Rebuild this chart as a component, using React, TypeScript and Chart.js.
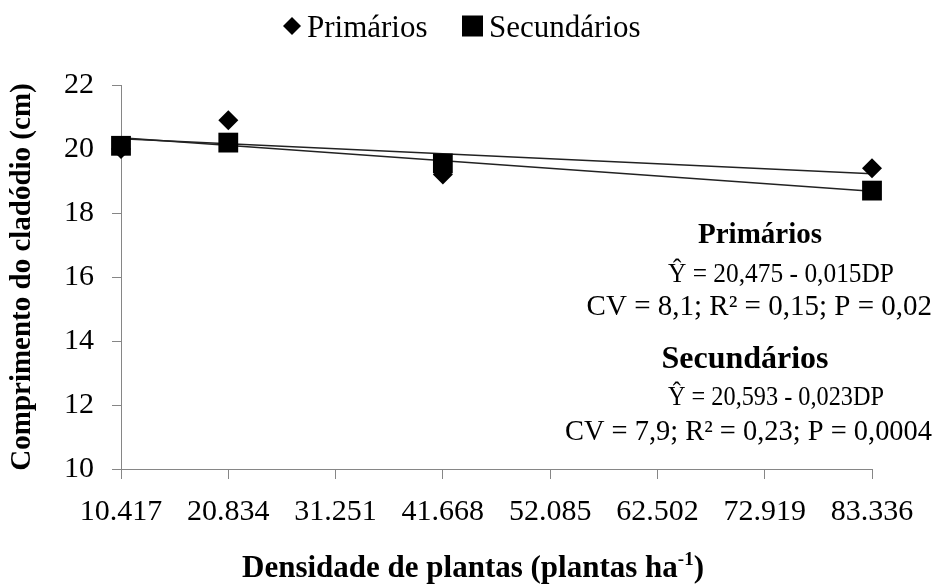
import React, { useEffect, useRef } from 'react';
import { Chart, registerables } from 'chart.js';

Chart.register(...registerables);

// ---- data ----
const xTickValues = [10.417, 20.834, 31.251, 41.668, 52.085, 62.502, 72.919, 83.336];
const densities = [10.417, 20.834, 41.668, 83.336];
const primarios = [20.0, 20.9, 19.2, 19.4];
const secundarios = [20.1, 20.2, 19.55, 18.7];
const primCoef = [20.475, -0.015];
const secCoef = [20.593, -0.023];
const yMin = 10;
const yMax = 22;
const yStep = 2;
const seriesNames = ['Primários', 'Secundários'];
const primAnnot = ['Primários', 'Ŷ = 20,475 - 0,015DP', 'CV = 8,1; R² = 0,15; P = 0,02'];
const secAnnot = ['Secundários', 'Ŷ = 20,593 - 0,023DP', 'CV = 7,9; R² = 0,23; P = 0,0004'];
const yTitle = 'Comprimento do cladódio (cm)';
const xTitleMain = 'Densidade de plantas (plantas ha';
const xTitleSup = '-1';
const xTitleEnd = ')';

const FONT = '"Liberation Serif", "Times New Roman", serif';
const AXIS_COLOR = '#868686';

function trend(coef: number[]) {
  const x0 = xTickValues[0];
  const x1 = xTickValues[xTickValues.length - 1];
  return [
    { x: x0, y: coef[0] + coef[1] * x0 },
    { x: x1, y: coef[0] + coef[1] * x1 },
  ];
}

const textPlugin = {
  id: 'textPlugin',
  afterDraw(chart: any) {
    const ctx = chart.ctx as CanvasRenderingContext2D;
    const area = chart.chartArea;
    ctx.save();
    ctx.fillStyle = '#000';

    // Legend
    const ly = 26;
    ctx.beginPath();
    ctx.moveTo(292, ly - 9);
    ctx.lineTo(301, ly);
    ctx.lineTo(292, ly + 9);
    ctx.lineTo(283, ly);
    ctx.closePath();
    ctx.fill();
    ctx.font = `31px ${FONT}`;
    ctx.textAlign = 'left';
    ctx.textBaseline = 'alphabetic';
    ctx.fillText(seriesNames[0], 307, 37);
    ctx.fillRect(462, ly - 10.5, 21, 21);
    ctx.fillText(seriesNames[1], 489, 37);

    // Annotations
    ctx.textAlign = 'center';
    ctx.font = `bold 29px ${FONT}`;
    ctx.fillText(primAnnot[0], 760, 243);
    ctx.textAlign = 'left';
    ctx.font = `27px ${FONT}`;
    ctx.fillText(primAnnot[1], 668, 282, 226);
    ctx.textAlign = 'right';
    ctx.font = `29px ${FONT}`;
    ctx.fillText(primAnnot[2], 932, 315, 348);

    ctx.textAlign = 'center';
    ctx.font = `bold 32px ${FONT}`;
    ctx.fillText(secAnnot[0], 745, 368);
    ctx.textAlign = 'left';
    ctx.font = `27px ${FONT}`;
    ctx.fillText(secAnnot[1], 668, 405, 216);
    ctx.textAlign = 'right';
    ctx.font = `29px ${FONT}`;
    ctx.fillText(secAnnot[2], 932, 440, 367);

    // Y title
    ctx.save();
    ctx.translate(23, (area.top + area.bottom) / 2);
    ctx.rotate(-Math.PI / 2);
    ctx.font = `bold 29px ${FONT}`;
    ctx.textAlign = 'center';
    ctx.textBaseline = 'middle';
    ctx.fillText(yTitle, 0, 0);
    ctx.restore();

    // X title with superscript
    const mainSize = 31;
    const supSize = 19;
    ctx.font = `bold ${mainSize}px ${FONT}`;
    const wMain = ctx.measureText(xTitleMain).width;
    ctx.font = `bold ${supSize}px ${FONT}`;
    const wSup = ctx.measureText(xTitleSup).width;
    ctx.font = `bold ${mainSize}px ${FONT}`;
    const wEnd = ctx.measureText(xTitleEnd).width;
    const total = wMain + wSup + wEnd;
    let x = 473 - total / 2;
    const by = 577;
    ctx.textAlign = 'left';
    ctx.textBaseline = 'alphabetic';
    ctx.fillText(xTitleMain, x, by);
    x += wMain;
    ctx.font = `bold ${supSize}px ${FONT}`;
    ctx.fillText(xTitleSup, x, by - 12);
    x += wSup;
    ctx.font = `bold ${mainSize}px ${FONT}`;
    ctx.fillText(xTitleEnd, x, by);

    ctx.restore();
  },
};

export default function App() {
  const ref = useRef<HTMLCanvasElement | null>(null);

  useEffect(() => {
    document.body.style.margin = '0';
    const canvas = ref.current;
    if (!canvas) return;
    const chart = new Chart(canvas, {
      type: 'scatter',
      data: {
        datasets: [
          {
            label: seriesNames[0],
            data: densities.map((d, i) => ({ x: d, y: primarios[i] })),
            pointStyle: 'rectRot',
            pointRadius: 10,
            backgroundColor: '#000',
            borderWidth: 0,
            showLine: false,
            clip: false,
          },
          {
            label: seriesNames[1],
            data: densities.map((d, i) => ({ x: d, y: secundarios[i] })),
            pointStyle: 'rect',
            pointRadius: 14,
            backgroundColor: '#000',
            borderWidth: 0,
            showLine: false,
            clip: false,
          },
          {
            label: 'trend1',
            data: trend(primCoef),
            showLine: true,
            borderColor: '#222',
            borderWidth: 1.5,
            pointRadius: 0,
            order: 5,
          },
          {
            label: 'trend2',
            data: trend(secCoef),
            showLine: true,
            borderColor: '#222',
            borderWidth: 1.5,
            pointRadius: 0,
            order: 5,
          },
        ],
      },
      options: {
        animation: false,
        responsive: false,
        devicePixelRatio: 1,
        layout: { padding: { top: 85, right: 65, bottom: 0, left: 0 } },
        plugins: {
          legend: { display: false },
          tooltip: { enabled: false },
        },
        scales: {
          x: {
            type: 'linear',
            min: xTickValues[0],
            max: xTickValues[xTickValues.length - 1],
            afterBuildTicks: (scale: any) => {
              scale.ticks = xTickValues.map((v) => ({ value: v }));
            },
            afterFit: (scale: any) => {
              scale.height = 119;
            },
            ticks: {
              autoSkip: false,
              maxRotation: 0,
              minRotation: 0,
              padding: 15,
              color: '#000',
              font: { family: FONT, size: 30 },
              callback: (v: any) => Number(v).toFixed(3),
            },
            grid: {
              drawOnChartArea: false,
              drawTicks: true,
              tickLength: 10,
              color: AXIS_COLOR,
            },
            border: { color: AXIS_COLOR, width: 1 },
          },
          y: {
            min: yMin,
            max: yMax,
            afterFit: (scale: any) => {
              scale.width = 121;
            },
            ticks: {
              stepSize: yStep,
              padding: 18,
              color: '#000',
              font: { family: FONT, size: 30 },
            },
            grid: {
              drawOnChartArea: false,
              drawTicks: true,
              tickLength: 9,
              color: AXIS_COLOR,
            },
            border: { color: AXIS_COLOR, width: 1 },
          },
        },
      },
      plugins: [textPlugin],
    } as any);
    return () => chart.destroy();
  }, []);

  return (
    <div style={{ width: 937, height: 588, background: '#fff' }}>
      <canvas ref={ref} width={937} height={588} style={{ display: 'block' }} />
    </div>
  );
}
